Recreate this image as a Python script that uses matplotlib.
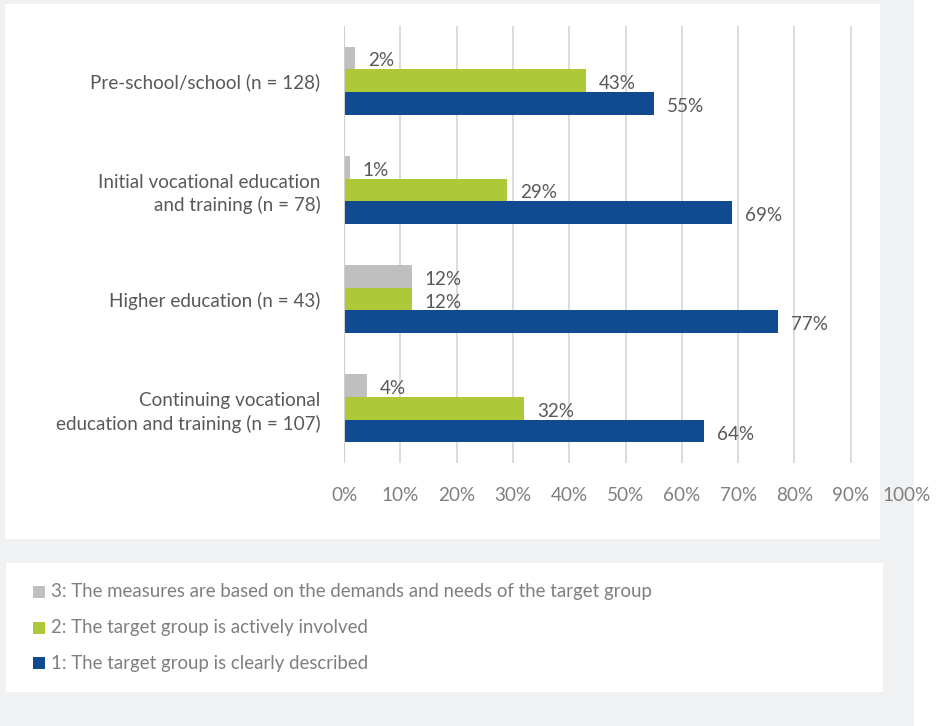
import numpy as np
import matplotlib.pyplot as plt
from matplotlib.patches import Rectangle

# survey results per education sector (share of measures, %)
categories = ['Pre-school/school (n = 128)',
              'Initial vocational education\nand training (n = 78)',
              'Higher education (n = 43)',
              'Continuing vocational\neducation and training (n = 107)']
demands = [2, 1, 12, 4]      # 3: based on demands and needs
involved = [43, 29, 12, 32]  # 2: actively involved
described = [55, 69, 77, 64]  # 1: clearly described

series_labels = ['3: The measures are based on the demands and needs of the target group',
                 '2: The target group is actively involved',
                 '1: The target group is clearly described']
colors = ['#bfbfbf', '#aec938', '#104a91']

W, H = 941, 726
fig = plt.figure(figsize=(W / 100, H / 100), dpi=100)
fig.patch.set_facecolor('white')

def px_rect(x0, y0, x1, y1, color):
    fig.patches.append(Rectangle((x0 / W, 1 - y1 / H), (x1 - x0) / W, (y1 - y0) / H,
                                 transform=fig.transFigure, facecolor=color,
                                 edgecolor='none', zorder=-10))

px_rect(0, 0, 914, H, '#f0f1f3')
px_rect(5, 4, 880, 539, 'white')
px_rect(6, 563, 883, 692, 'white')

ax = fig.add_axes([344 / W, 1 - 463 / H, (907 - 344) / W, (463 - 26) / H])
ax.set_facecolor('none')

font = 'Lato'
txt = '#595959'
fs = 13.6
y = np.arange(len(categories))
h = 0.208
for vals, off, c in zip([demands, involved, described], [-h, 0, h], colors):
    ax.barh(y + off, vals, height=h, color=c, zorder=3)
    for v, yy in zip(vals, y + off):
        ax.annotate(f'{v}%', (v, yy), xytext=(13, -3), textcoords='offset pixels',
                    ha='left', va='center', fontsize=fs, color=txt, family=font)

ax.set_xlim(0, 100)
ax.set_ylim(3.5, -0.5)
ax.set_xticks(np.arange(0, 101, 10))
ax.set_xticklabels([f'{t}%' for t in range(0, 101, 10)], family=font, fontsize=fs, color='#7f7f7f')
ax.tick_params(axis='x', length=0, pad=17.5)
ax.set_yticks(y)
ax.set_yticklabels(categories, family=font, fontsize=fs, color=txt, linespacing=1.35)
ax.tick_params(axis='y', length=0, pad=17)
ax.grid(axis='x', color='#d9d9d9', linewidth=1.3, zorder=0)
ax.xaxis.get_gridlines()[-1].set_visible(False)
for s in ax.spines.values():
    s.set_visible(False)
ax.axvline(0, color='#d0d0d0', linewidth=1.5, zorder=4)

# legend drawn as squares and text in pixel positions
for i, (lab, c) in enumerate(zip(series_labels, colors)):
    yc = 592 + i * 35.7
    px_rect(33, yc - 6, 45, yc + 6, c)
    fig.text(51 / W, 1 - yc / H, lab, ha='left', va='center', fontsize=13.4,
             color='#7f7f7f', family=font)

fig.savefig('out.png', dpi=100)
